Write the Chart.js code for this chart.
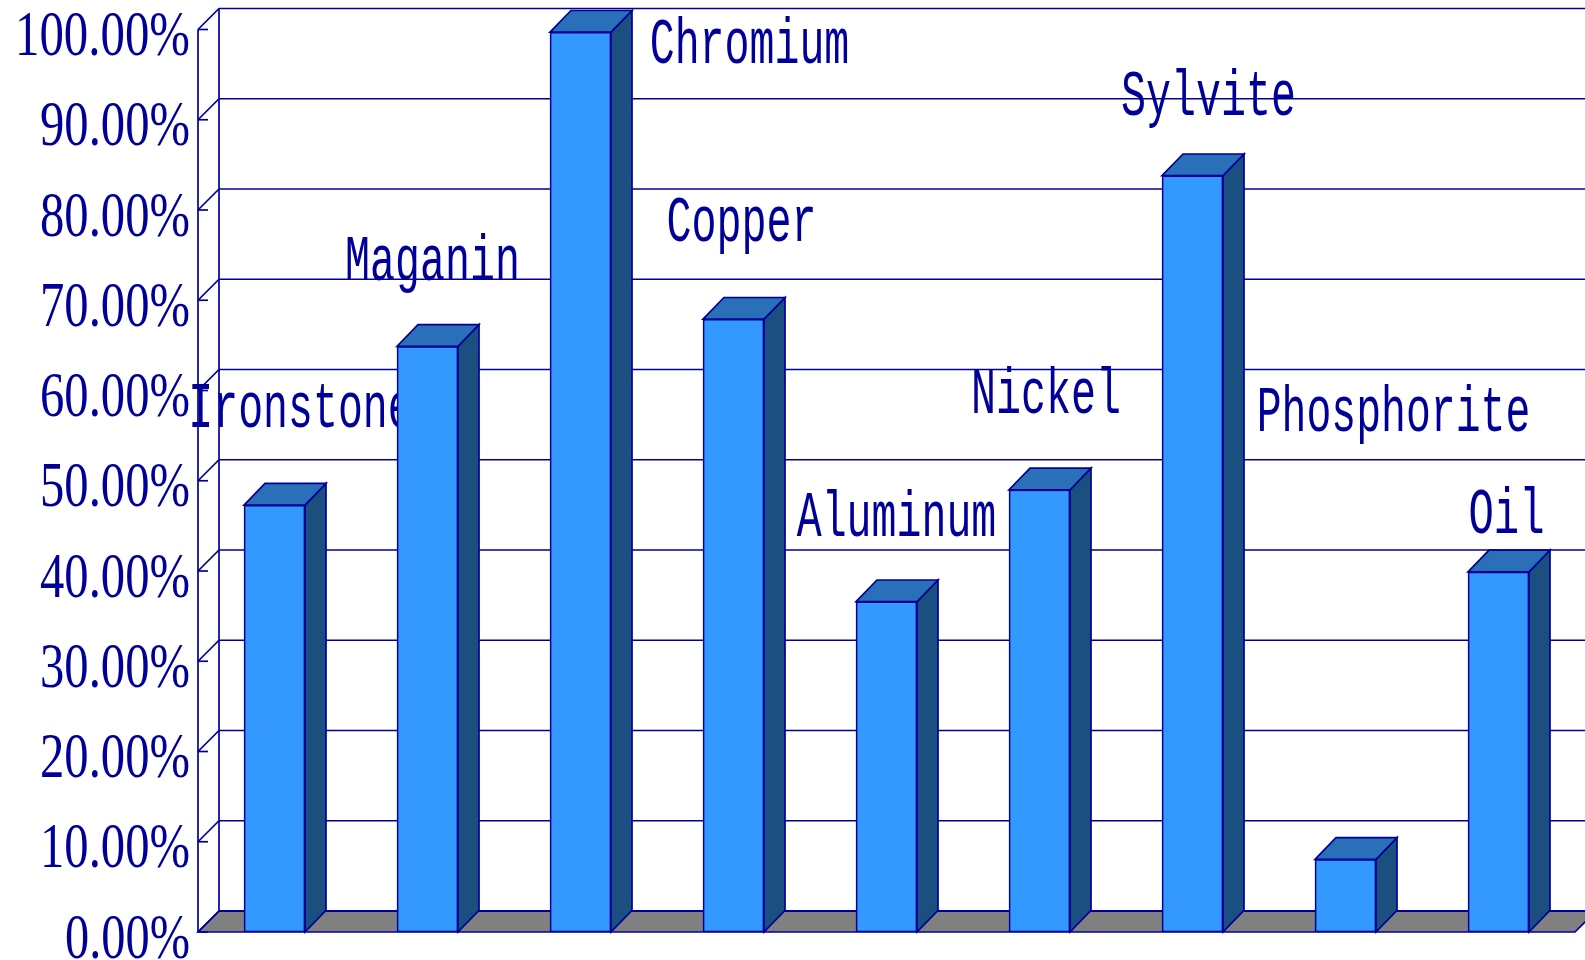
<!DOCTYPE html>
<html>
<head>
<meta charset="utf-8">
<title>Minerals</title>
<script src="https://cdn.jsdelivr.net/npm/chart.js@4"></script>
<style>
html, body { margin: 0; padding: 0; background: #fff; overflow: hidden; }
canvas { display: block; }
</style>
</head>
<body>
<canvas id="chart" width="1585" height="960"></canvas>
<script>
// ---------- DATA ----------

const categories = ["Ironstone", "Maganin", "Chromium", "Copper", "Aluminum", "Nickel", "Sylvite", "Phosphorite", "Oil"];
const shares = [47.3, 64.9, 99.7, 67.9, 36.6, 49, 83.8, 8.05, 39.9];
const tickLabels = ["0.00%", "10.00%", "20.00%", "30.00%", "40.00%", "50.00%", "60.00%", "70.00%", "80.00%", "90.00%", "100.00%"];


// ---------- STYLE ----------

const NAVY = "#000099";
const DEPTH = 21;             // 3D offset of the back wall
const BAR_RISE = 21.7;        // bar tops lean back a little more than the walls
const CHAR_W = 24.7;          // the text is narrow and tall, so it is squeezed to this width per character

// where each name sits, measured from the top centre of its bar
const labelShift = [[26, -78], [5, -66], [169, 31], [8, -78], [10, -66], [6.5, -77], [16, -61], [48, -428], [8, -39]];


// squeezed text, one whole string fitted into a width
function narrowText(ctx, text, x, baseline, width, font, align){

ctx.save();
ctx.font = font;
ctx.fillStyle = NAVY;
ctx.textBaseline = "alphabetic";
ctx.textAlign = "left";
let natural = ctx.measureText(text).width;
let left = align === "right" ? x - width : x - width / 2;
ctx.translate(left, baseline);
ctx.scale(width / natural, 1);
ctx.fillText(text, 0, 0);
ctx.restore();

}


function drawLine(ctx, x1, y1, x2, y2){

ctx.beginPath();
ctx.moveTo(x1, y1);
ctx.lineTo(x2, y2);
ctx.stroke();

}


function drawPoly(ctx, pts, fill){

ctx.beginPath();
pts.forEach((p, i) => i ? ctx.lineTo(p[0], p[1]) : ctx.moveTo(p[0], p[1]));
ctx.closePath();
ctx.fillStyle = fill;
ctx.fill();
ctx.stroke();

}


// ---------- 3D PARTS ----------

const box3d = {

id: "box3d",

beforeDatasetsDraw(chart){

const ctx = chart.ctx;
const y = chart.scales.y;
const area = chart.chartArea;
const base = y.getPixelForValue(0);
const right = chart.width + DEPTH;

ctx.save();
ctx.strokeStyle = NAVY;
ctx.lineWidth = 1.7;

// floor
drawPoly(ctx, [[area.left, base], [area.right, base], [area.right + DEPTH, base - DEPTH], [area.left + DEPTH, base - DEPTH]], "#808080");
ctx.lineWidth = 2;
drawLine(ctx, area.left + DEPTH, base - DEPTH, right, base - DEPTH);
ctx.lineWidth = 1.7;

// walls
drawLine(ctx, area.left, y.getPixelForValue(100), area.left, base);
drawLine(ctx, area.left + DEPTH, y.getPixelForValue(100) - DEPTH, area.left + DEPTH, base - DEPTH);

// grid, ticks and tick labels
y.ticks.forEach((tick, i) => {

let py = y.getPixelForValue(tick.value);
if(tick.value > 0) drawLine(ctx, area.left + DEPTH, py - DEPTH, right, py - DEPTH);
drawLine(ctx, area.left, py, area.left + DEPTH, py - DEPTH);
drawLine(ctx, area.left, py, area.left + 10, py);
narrowText(ctx, tickLabels[i], 190, py + 25.5, tickLabels[i].length * 25, "64px 'Liberation Serif'", "right");

});

// names go under the bars, Ironstone is cut by the next bar
const bars = chart.getDatasetMeta(0).data;

categories.forEach((name, i) => {

narrowText(ctx, name, bars[i].x + labelShift[i][0], bars[i].y + labelShift[i][1], name.length * CHAR_W + 2, "64px 'Liberation Mono'", "center");

});

// side and top of each bar
bars.forEach(bar => {

let half = bar.width / 2;
let l = bar.x - half;
let r = bar.x + half;

drawPoly(ctx, [[r, bar.y], [r + DEPTH, bar.y - BAR_RISE], [r + DEPTH, bar.base - BAR_RISE], [r, bar.base]], "#1A4F80");
drawPoly(ctx, [[l, bar.y], [l + DEPTH, bar.y - BAR_RISE], [r + DEPTH, bar.y - BAR_RISE], [r, bar.y]], "#2970B8");

});

ctx.restore();

}

};


// ---------- CHART ----------

new Chart(document.getElementById("chart"), {

type: "bar",

data: {

labels: categories,

datasets: [{

data: shares,
backgroundColor: "#3399FF",
borderColor: NAVY,
borderWidth: 1.7,
borderSkipped: false,
barThickness: 61,
clip: false

}]

},

options: {

responsive: false,
animation: false,
layout: { padding: { left: 198, right: 10, top: 29.5, bottom: 28 } },

plugins: {
legend: { display: false },
title: { display: false },
tooltip: { enabled: false }
},

scales: {
x: { display: false },
y: { display: false, min: 0, max: 100, ticks: { stepSize: 10 } }
}

},

plugins: [box3d]

});
</script>
</body>
</html>
